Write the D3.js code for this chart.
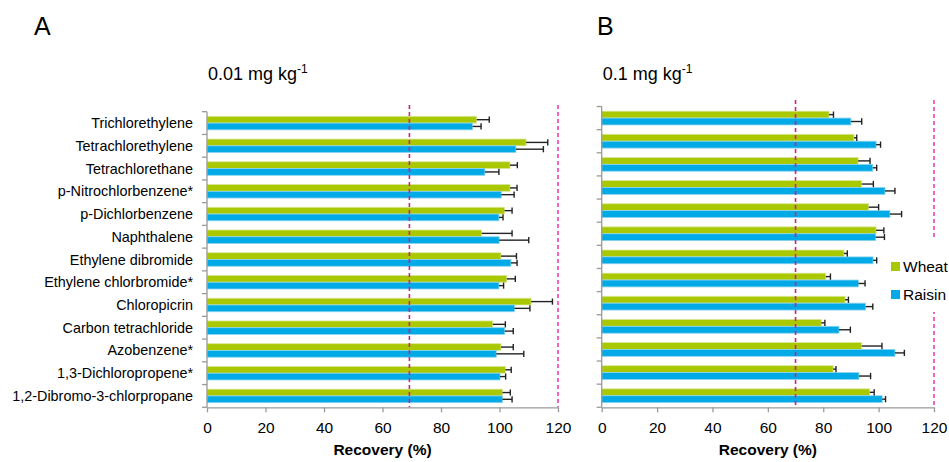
<!DOCTYPE html>
<html lang="en">
<head>
<script src="https://d3js.org/d3.v7.min.js"></script>
<style>
body { margin: 0; background: #fff; }
text { font-family: "Liberation Sans", Arial, sans-serif; fill: #000; }
</style>
</head>
<body>
<svg width="949" height="462"></svg>
<script>
var categories = ["Trichlorethylene", "Tetrachlorethylene", "Tetrachlorethane",
  "p-Nitrochlorbenzene*", "p-Dichlorbenzene", "Naphthalene", "Ethylene dibromide",
  "Ethylene chlorbromide*", "Chloropicrin", "Carbon tetrachloride", "Azobenzene*",
  "1,3-Dichloropropene*", "1,2-Dibromo-3-chlorpropane"];
var seriesNames = ["Wheat", "Raisin"];
var xTicks = [0, 20, 40, 60, 80, 100, 120];

// panel A, 0.01 mg/kg
var wheatA = [92.2, 109.1, 103.6, 103.6, 101.7, 93.9, 100.5, 102.5, 110.8, 97.7, 100.5, 102.0, 101.0];
var wheatSdA = [4.3, 7.4, 2.5, 2.4, 2.6, 10.4, 5.3, 2.9, 7.3, 4.3, 4.2, 2.0, 2.7];
var raisinA = [90.8, 105.6, 95.0, 100.6, 99.8, 99.9, 103.9, 99.8, 105.1, 101.8, 98.9, 100.2, 101.0];
var raisinSdA = [2.9, 9.4, 4.8, 4.4, 1.4, 10.1, 2.1, 1.6, 5.3, 2.9, 9.4, 1.9, 3.3];
var refA = [69.2, 120];

// panel B, 0.1 mg/kg
var wheatB = [82.1, 91.1, 92.6, 93.9, 96.4, 99.1, 87.5, 80.9, 87.9, 79.3, 93.9, 83.6, 96.8];
var wheatSdB = [1.6, 1.0, 4.3, 4.2, 3.6, 2.8, 1.2, 1.7, 1.2, 1.3, 7.3, 1.0, 1.6];
var raisinB = [90.0, 99.1, 97.9, 102.3, 104.1, 98.9, 98.0, 92.7, 95.3, 85.7, 105.9, 92.9, 101.3];
var raisinSdB = [3.9, 1.6, 1.4, 3.6, 4.2, 3.2, 1.3, 2.4, 2.6, 4.1, 3.4, 4.2, 1.2];
var refB = [70, 120];

var colors = { Wheat: "#a9c800", Raisin: "#00aae6" };
var edges = { Wheat: "#d9e89a", Raisin: "#8fd4f0" };
var refColors = ["#cc2288", "#ee3fb4"];

var svg = d3.select("svg");

function drawPanel(p) {
  var x = d3.scaleLinear().domain([0, 120]).range([p.left, p.right]);
  var y = d3.scaleBand().domain(categories).range([p.top, p.bottom]);
  var sub = d3.scaleBand().domain(seriesNames).range([0, y.bandwidth()])
    .paddingOuter(0.68);
  var g = svg.append("g");

  var rows = [];
  categories.forEach(function(c, i) {
    rows.push({ cat: c, s: "Wheat", v: p.wheat[i], sd: p.wheatSd[i] });
    rows.push({ cat: c, s: "Raisin", v: p.raisin[i], sd: p.raisinSd[i] });
  });

  g.selectAll(".bar").data(rows).enter().append("rect")
    .attr("x", x(0))
    .attr("y", function(d) { return y(d.cat) + sub(d.s); })
    .attr("width", function(d) { return x(d.v) - x(0); })
    .attr("height", sub.bandwidth())
    .attr("fill", function(d) { return colors[d.s]; })
    .attr("stroke", function(d) { return edges[d.s]; })
    .attr("stroke-width", 0.8);

  // error bars, positive side only
  var eb = g.selectAll(".err").data(rows).enter().append("g")
    .attr("stroke", "#222").attr("stroke-width", 1.4);
  eb.append("line")
    .attr("x1", function(d) { return x(d.v); })
    .attr("x2", function(d) { return x(d.v + d.sd); })
    .attr("y1", function(d) { return y(d.cat) + sub(d.s) + sub.bandwidth() / 2; })
    .attr("y2", function(d) { return y(d.cat) + sub(d.s) + sub.bandwidth() / 2; });
  eb.append("line")
    .attr("x1", function(d) { return x(d.v + d.sd); })
    .attr("x2", function(d) { return x(d.v + d.sd); })
    .attr("y1", function(d) { return y(d.cat) + sub(d.s) + 0.3; })
    .attr("y2", function(d) { return y(d.cat) + sub(d.s) + sub.bandwidth() - 0.3; });

  // reference lines
  p.refs.forEach(function(r, i) {
    g.append("line")
      .attr("x1", x(r)).attr("x2", x(r))
      .attr("y1", p.refTop).attr("y2", p.bottom)
      .attr("stroke", refColors[i]).attr("stroke-width", 1.6)
      .attr("stroke-dasharray", "4,3");
  });

  // x axis
  var xa = g.append("g")
    .attr("transform", "translate(0," + p.bottom + ")")
    .call(d3.axisBottom(x).tickValues(xTicks).tickSize(5).tickSizeOuter(0).tickPadding(10));
  xa.select(".domain").attr("stroke", "#9a9a9a").attr("stroke-width", 1.3);
  xa.selectAll(".tick line").attr("stroke", "#9a9a9a").attr("stroke-width", 1.3);
  xa.selectAll(".tick text").attr("font-size", "15.5px")
    .attr("font-family", "Liberation Sans, Arial, sans-serif").attr("fill", "#000");

  // y axis: line, boundary ticks, labels
  var ya = g.append("g").attr("transform", "translate(" + x(0) + ",0)");
  ya.append("line").attr("y1", p.top).attr("y2", p.bottom)
    .attr("stroke", "#9a9a9a").attr("stroke-width", 1.3);
  var bounds = categories.map(function(c) { return y(c); }).concat([p.bottom]);
  ya.selectAll(".bt").data(bounds).enter().append("line")
    .attr("x1", -5).attr("x2", 0)
    .attr("y1", function(d) { return d; }).attr("y2", function(d) { return d; })
    .attr("stroke", "#9a9a9a").attr("stroke-width", 1.3);
  if (p.labels) {
    ya.selectAll(".lab").data(categories).enter().append("text")
      .attr("x", -14)
      .attr("y", function(d) { return y(d) + y.bandwidth() / 2; })
      .attr("dy", "0.35em")
      .attr("text-anchor", "end")
      .attr("font-size", "14.4px")
      .text(function(d) { return d; });
  }

  g.append("text")
    .attr("x", (p.left + p.right) / 2).attr("y", 455)
    .attr("text-anchor", "middle")
    .attr("font-size", "15.5px").attr("font-weight", "bold")
    .text("Recovery (%)");

  g.append("text")
    .attr("x", p.letterX).attr("y", 35)
    .attr("font-family", "Open Sans, sans-serif")
    .attr("font-size", "25px")
    .text(p.letter);

  var st = g.append("text")
    .attr("x", p.left + 1).attr("y", 80)
    .attr("font-size", "18px");
  st.append("tspan").text(p.sub);
  st.append("tspan").attr("dy", -7).attr("font-size", "12px").text("-1");
  return { x: x, y: y };
}

drawPanel({ left: 207, right: 558, top: 111.7, bottom: 407.3, refTop: 105,
  wheat: wheatA, wheatSd: wheatSdA, raisin: raisinA, raisinSd: raisinSdA,
  refs: refA, labels: true, letter: "A", letterX: 34, sub: "0.01 mg kg" });

drawPanel({ left: 601.7, right: 934, top: 106.5, bottom: 407.3, refTop: 100,
  wheat: wheatB, wheatSd: wheatSdB, raisin: raisinB, raisinSd: raisinSdB,
  refs: refB, labels: false, letter: "B", letterX: 597, sub: "0.1 mg kg" });

// legend (white box hides the 120 line behind it)
var lg = svg.append("g").attr("transform", "translate(884,240)");
lg.append("rect").attr("x", 0).attr("y", 0).attr("width", 65).attr("height", 72)
  .attr("fill", "#fff");
seriesNames.forEach(function(s, i) {
  lg.append("rect").attr("x", 7).attr("y", 22 + i * 28)
    .attr("width", 9).attr("height", 9).attr("fill", colors[s]);
  lg.append("text").attr("x", 19).attr("y", 26.5 + i * 28)
    .attr("dy", "0.35em").attr("font-size", "15.5px").text(s);
});
</script>
</body>
</html>
